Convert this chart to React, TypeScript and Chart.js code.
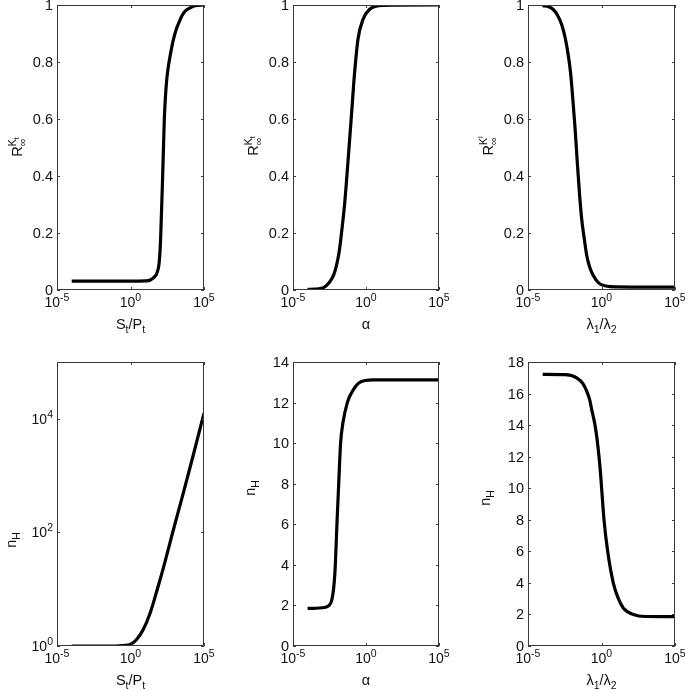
import React, { useEffect, useRef } from 'react';
import { Chart, registerables } from 'chart.js';

Chart.register(...registerables);

const FONT = '"Liberation Sans", Arial, Helvetica, sans-serif';

// ---------- data ----------
const p1X = [1e-4, 1e-2, 1, 10, 22.4, 50, 63, 89, 112, 158, 200, 240, 288, 355, 490, 631, 794, 1412, 2239, 3162, 5623, 11220, 25120, 1e5];
const p1Y = [0.031, 0.031, 0.031, 0.032, 0.035, 0.05, 0.06, 0.095, 0.18, 0.42, 0.6, 0.68, 0.735, 0.775, 0.82, 0.85, 0.875, 0.92, 0.945, 0.962, 0.98, 0.99, 0.998, 1.0];

const p2X = [1e-4, 3.16e-4, 1.12e-3, 3.16e-3, 6.31e-3, 8.91e-3, 1.41e-2, 2.0e-2, 3.55e-2, 5.62e-2, 0.1, 0.158, 0.282, 0.631, 1.78, 14.1, 1e5];
const p2Y = [0.002, 0.003, 0.007, 0.027, 0.055, 0.08, 0.13, 0.19, 0.31, 0.44, 0.61, 0.75, 0.88, 0.95, 0.985, 0.999, 1.0];

const p3X = [1e-4, 2.51e-4, 5.01e-4, 1e-3, 2.0e-3, 3.55e-3, 5.62e-3, 7.94e-3, 1.12e-2, 1.58e-2, 2.24e-2, 3.16e-2, 4.47e-2, 6.31e-2, 0.1, 0.158, 0.282, 0.631, 2.0, 10, 1e5];
const p3Y = [0.998, 0.994, 0.985, 0.965, 0.93, 0.88, 0.82, 0.76, 0.67, 0.57, 0.45, 0.34, 0.25, 0.19, 0.12, 0.08, 0.05, 0.025, 0.014, 0.011, 0.01];

const p4X = [1e-4, 0.1, 0.316, 1, 2.51, 7.08, 22.4, 63.1, 178, 794, 3981, 17780, 1e5];
const p4Y = [1, 1, 1.02, 1.07, 1.29, 1.91, 3.9, 9.5, 24.5, 107, 501, 2190, 12590];

const p5X = [1e-4, 1.48e-3, 2.95e-3, 4.27e-3, 5.5e-3, 6.76e-3, 7.94e-3, 1.02e-2, 1.35e-2, 1.82e-2, 2.63e-2, 5.25e-2, 0.105, 0.372, 3.02, 1e5];
const p5Y = [1.85, 1.9, 2.0, 2.2, 2.6, 3.2, 4.0, 6.0, 8.0, 10.0, 11.0, 12.0, 12.5, 13.0, 13.12, 13.12];

const p6X = [1e-4, 3.31e-3, 2.04e-2, 5.75e-2, 0.115, 0.158, 0.214, 0.282, 0.363, 0.5, 0.676, 0.832, 1.02, 1.48, 2.63, 6.31, 14.1, 30.9, 148, 912, 1e5];
const p6Y = [17.22, 17.2, 17.0, 16.6, 16.0, 15.6, 15.0, 14.5, 14.0, 13.1, 12.0, 11.1, 10.0, 8.0, 6.0, 4.0, 3.0, 2.4, 2.0, 1.87, 1.86];

// ---------- ticks ----------
const xTickVals = [1e-5, 1, 1e5];
const xTickExps = ['-5', '0', '5'];
const rTickVals = [0, 0.2, 0.4, 0.6, 0.8, 1];
const rTickLabels = ['0', '0.2', '0.4', '0.6', '0.8', '1'];
const nLogTickVals = [1, 100, 10000];
const nLogTickExps = ['0', '2', '4'];
const n5TickVals = [0, 2, 4, 6, 8, 10, 12, 14];
const n5TickLabels = ['0', '2', '4', '6', '8', '10', '12', '14'];
const n6TickVals = [0, 2, 4, 6, 8, 10, 12, 14, 16, 18];
const n6TickLabels = ['0', '2', '4', '6', '8', '10', '12', '14', '16', '18'];

// ---------- rich text ----------
type Seg = { t?: string; s?: number; r?: number; mark?: boolean; back?: boolean };

const powLabel = (e: string): Seg[] => [{ t: '10', s: 14 }, { t: e, s: 10.5, r: 6 }];
const plainLabel = (t: string): Seg[] => [{ t, s: 14.5 }];

const labelStPt: Seg[] = [{ t: 'S', s: 14.5 }, { t: 't', s: 10.5, r: -4 }, { t: '/P', s: 14.5 }, { t: 't', s: 10.5, r: -4 }];
const labelAlpha: Seg[] = [{ t: 'α', s: 14.5 }];
const labelLambda: Seg[] = [{ t: 'λ', s: 14.5 }, { t: '1', s: 10.5, r: -4 }, { t: '/λ', s: 14.5 }, { t: '2', s: 10.5, r: -4 }];
const labelRKt: Seg[] = [{ t: 'R', s: 14.5 }, { mark: true }, { t: 'K', s: 10.5, r: 6 }, { t: 't', s: 7.5, r: 3 }, { back: true }, { t: '∞', s: 10.5, r: -4 }];
const labelRKl: Seg[] = [{ t: 'R', s: 14.5 }, { mark: true }, { t: 'K', s: 10.5, r: 6 }, { t: 'l', s: 7.5, r: 10 }, { back: true }, { t: '∞', s: 10.5, r: -4 }];
const labelNH: Seg[] = [{ t: 'n', s: 14.5 }, { t: 'H', s: 10.5, r: -4 }];

function drawRich(ctx: CanvasRenderingContext2D, segs: Seg[], x: number, y: number, align: 'left' | 'center' | 'right') {
  let cur = 0;
  let mark = 0;
  let maxX = 0;
  const items: { t: string; s: number; r: number; x: number }[] = [];
  for (const sg of segs) {
    if (sg.mark) { mark = cur; continue; }
    if (sg.back) { cur = mark; continue; }
    ctx.font = `${sg.s}px ${FONT}`;
    const w = ctx.measureText(sg.t as string).width;
    items.push({ t: sg.t as string, s: sg.s as number, r: sg.r || 0, x: cur });
    cur += w;
    maxX = Math.max(maxX, cur);
  }
  const off = align === 'center' ? -maxX / 2 : align === 'right' ? -maxX : 0;
  ctx.textAlign = 'left';
  ctx.textBaseline = 'alphabetic';
  for (const it of items) {
    ctx.font = `${it.s}px ${FONT}`;
    ctx.fillText(it.t, x + off + it.x, y - it.r);
  }
}

type PanelCfg = {
  cx: number; cy: number; cw: number; ch: number;
  l: number; t: number; r: number; b: number;
  xs: number[]; ys: number[];
  yLog: boolean; yMin: number; yMax: number;
  yTicks: number[]; yTickSegs: Seg[][];
  xTitle: Seg[]; yTitle: Seg[];
  yTitleX: number; yTitleY: number;
};

const xTickSegs = xTickExps.map(powLabel);

const panels: PanelCfg[] = [
  {
    cx: 0, cy: 0, cw: 228, ch: 340, l: 57, t: 5, r: 204, b: 290,
    xs: p1X, ys: p1Y, yLog: false, yMin: 0, yMax: 1,
    yTicks: rTickVals, yTickSegs: rTickLabels.map(plainLabel),
    xTitle: labelStPt, yTitle: labelRKt, yTitleX: 22, yTitleY: 147,
  },
  {
    cx: 228, cy: 0, cw: 228, ch: 340, l: 293, t: 5, r: 439, b: 290,
    xs: p2X, ys: p2Y, yLog: false, yMin: 0, yMax: 1,
    yTicks: rTickVals, yTickSegs: rTickLabels.map(plainLabel),
    xTitle: labelAlpha, yTitle: labelRKt, yTitleX: 258, yTitleY: 146,
  },
  {
    cx: 456, cy: 0, cw: 229, ch: 340, l: 528, t: 5, r: 675, b: 290,
    xs: p3X, ys: p3Y, yLog: false, yMin: 0, yMax: 1,
    yTicks: rTickVals, yTickSegs: rTickLabels.map(plainLabel),
    xTitle: labelLambda, yTitle: labelRKl, yTitleX: 493, yTitleY: 146,
  },
  {
    cx: 0, cy: 340, cw: 228, ch: 351, l: 57, t: 362, r: 204, b: 646,
    xs: p4X, ys: p4Y, yLog: true, yMin: 1, yMax: 1e5,
    yTicks: nLogTickVals, yTickSegs: nLogTickExps.map(powLabel),
    xTitle: labelStPt, yTitle: labelNH, yTitleX: 16, yTitleY: 540,
  },
  {
    cx: 228, cy: 340, cw: 228, ch: 351, l: 293, t: 362, r: 439, b: 646,
    xs: p5X, ys: p5Y, yLog: false, yMin: 0, yMax: 14,
    yTicks: n5TickVals, yTickSegs: n5TickLabels.map(plainLabel),
    xTitle: labelAlpha, yTitle: labelNH, yTitleX: 255, yTitleY: 488,
  },
  {
    cx: 456, cy: 340, cw: 229, ch: 351, l: 528, t: 362, r: 675, b: 646,
    xs: p6X, ys: p6Y, yLog: false, yMin: 0, yMax: 18,
    yTicks: n6TickVals, yTickSegs: n6TickLabels.map(plainLabel),
    xTitle: labelLambda, yTitle: labelNH, yTitleX: 490, yTitleY: 498,
  },
];

function makeAxesPlugin(p: PanelCfg) {
  return {
    id: 'matlabAxes',
    afterDraw(chart: any) {
      const ctx: CanvasRenderingContext2D = chart.ctx;
      const xs = chart.scales.x;
      const ys = chart.scales.y;
      const { left, right, top, bottom } = chart.chartArea;
      ctx.save();
      // box
      ctx.strokeStyle = '#3a3a3a';
      ctx.lineWidth = 1;
      ctx.strokeRect(Math.round(left) + 0.5, Math.round(top) + 0.5, Math.round(right - left) - 1, Math.round(bottom - top) - 1);
      // inside ticks
      const tl = 3;
      ctx.beginPath();
      for (const v of xTickVals) {
        const px = Math.round(xs.getPixelForValue(v)) + 0.5;
        ctx.moveTo(px, bottom); ctx.lineTo(px, bottom - tl);
        ctx.moveTo(px, top); ctx.lineTo(px, top + tl);
      }
      for (const v of p.yTicks) {
        const py = Math.round(ys.getPixelForValue(v)) + 0.5;
        ctx.moveTo(left, py); ctx.lineTo(left + tl, py);
        ctx.moveTo(right, py); ctx.lineTo(right - tl, py);
      }
      ctx.stroke();
      // tick labels
      ctx.fillStyle = '#111';
      xTickVals.forEach((v, i) => {
        const px = xs.getPixelForValue(v);
        drawRich(ctx, xTickSegs[i], px, bottom + 17, 'center');
      });
      p.yTicks.forEach((v, i) => {
        const py = ys.getPixelForValue(v);
        drawRich(ctx, p.yTickSegs[i], left - 4, py + 5, 'right');
      });
      // x title
      drawRich(ctx, p.xTitle, (left + right) / 2, bottom + 39, 'center');
      // y title (rotated)
      ctx.translate(p.yTitleX - p.cx, p.yTitleY - p.cy);
      ctx.rotate(-Math.PI / 2);
      drawRich(ctx, p.yTitle, 0, 0, 'center');
      ctx.restore();
    },
  };
}

function Panel({ p }: { p: PanelCfg }) {
  const ref = useRef<HTMLCanvasElement>(null);
  useEffect(() => {
    if (!ref.current) return;
    const chart = new Chart(ref.current, {
      type: 'line',
      data: {
        datasets: [
          {
            data: p.xs.map((x, i) => ({ x, y: p.ys[i] })),
            borderColor: '#000',
            borderWidth: 3.2,
            pointRadius: 0,
            fill: false,
            cubicInterpolationMode: 'monotone',
          },
        ],
      },
      options: {
        responsive: false,
        animation: false,
        devicePixelRatio: 1,
        events: [],
        layout: {
          padding: {
            left: p.l - p.cx,
            top: p.t - p.cy,
            right: p.cx + p.cw - p.r,
            bottom: p.cy + p.ch - p.b,
          },
        },
        plugins: { legend: { display: false }, tooltip: { enabled: false } },
        scales: {
          x: { type: 'logarithmic', min: 1e-5, max: 1e5, display: false },
          y: { type: p.yLog ? 'logarithmic' : 'linear', min: p.yMin, max: p.yMax, display: false },
        },
      } as any,
      plugins: [makeAxesPlugin(p)],
    } as any);
    return () => chart.destroy();
  }, [p]);
  return (
    <canvas
      ref={ref}
      width={p.cw}
      height={p.ch}
      style={{ position: 'absolute', left: p.cx, top: p.cy, width: p.cw, height: p.ch }}
    />
  );
}

export default function App() {
  return (
    <div style={{ position: 'absolute', left: 0, top: 0, width: 685, height: 691, background: '#fff', overflow: 'hidden' }}>
      {panels.map((p, i) => (
        <Panel key={i} p={p} />
      ))}
    </div>
  );
}
